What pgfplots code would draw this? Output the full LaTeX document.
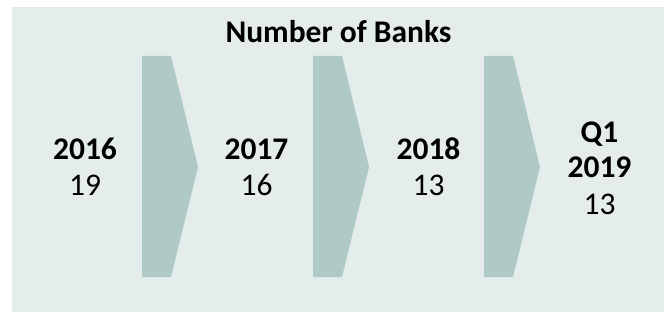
\documentclass[border=0pt]{standalone}
\usepackage{pgfplots}
\pgfplotsset{compat=1.18}
\usepackage{pgfplotstable}
\usepackage{fontspec}
\setmainfont{Carlito}
\definecolor{panelbg}{HTML}{E4EDEB}
\definecolor{arrowc}{HTML}{AFCAC4}

% bold labels: x, baseline y (pixels from top), text
\pgfplotstableread{
x y label
338.5 42.3 {Number~of~Banks}
85 159.3 2016
256.5 159.3 2017
428.5 159.3 2018
599.5 142.3 Q1
599.5 177.3 2019
}\boldlabels
% regular labels (values)
\pgfplotstableread{
x y label
85 195.8 19
256.5 195.8 16
428.5 195.8 13
599.5 214.3 13
}\valuelabels

\begin{document}
\begin{tikzpicture}
\begin{axis}[
  scale only axis, width=664pt, height=313pt,
  xmin=0, xmax=664, ymin=0, ymax=313, y dir=reverse,
  hide axis, clip=false,
]
% invisible frame of the whole picture (keeps the white margins)
\addplot[draw=none, mark=none] coordinates {(0,0) (664,313)};
% background panel
\addplot[fill=panelbg, draw=none] coordinates {(12,7) (664,7) (664,312) (12,312)} --cycle;
% chevron arrows
\addplot[fill=arrowc, draw=none] coordinates {(142,56) (171,56) (198,167) (171,277) (142,277)} --cycle;
\addplot[fill=arrowc, draw=none] coordinates {(313,56) (342,56) (369,167) (342,277) (313,277)} --cycle;
\addplot[fill=arrowc, draw=none] coordinates {(484,56) (513,56) (540,167) (513,277) (484,277)} --cycle;
% labels
\addplot[only marks, mark=none, point meta=explicit symbolic,
  nodes near coords, nodes near coords align={anchor=base},
  every node near coord/.append style={inner sep=0pt, font=\fontsize{31.5}{37}\selectfont\bfseries, text=black}]
  table[x=x, y=y, meta=label] {\boldlabels};
\addplot[only marks, mark=none, point meta=explicit symbolic,
  nodes near coords, nodes near coords align={anchor=base},
  every node near coord/.append style={inner sep=0pt, font=\fontsize{31.5}{37}\selectfont, text=black}]
  table[x=x, y=y, meta=label] {\valuelabels};
\end{axis}
\end{tikzpicture}
\end{document}
